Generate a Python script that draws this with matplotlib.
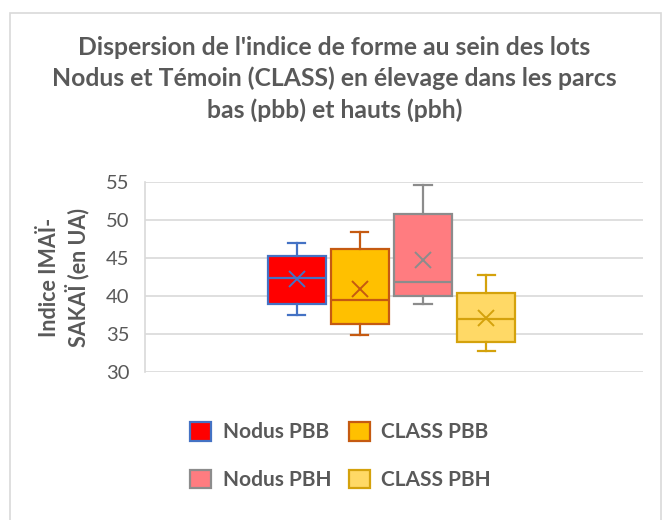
import matplotlib
matplotlib.use("Agg")
import matplotlib.pyplot as plt
from matplotlib.patches import Patch, Rectangle

plt.rcParams['font.family'] = ['Lato', 'DejaVu Sans']

# values
series = ["Nodus PBB", "CLASS PBB", "Nodus PBH", "CLASS PBH"]
whislo = [37.6, 34.9, 39.0, 32.8]
q1 = [39.05, 36.3, 40.0, 34.05]
med = [42.45, 39.5, 41.9, 36.95]
q3 = [45.3, 46.2, 50.8, 40.5]
whishi = [47.05, 48.4, 54.7, 42.8]
means = [42.3, 40.9, 44.75, 37.1]

fills = ["#FF0000", "#FFC000", "#FF7C80", "#FFD966"]
edges = ["#4472C4", "#C55A11", "#8C8C8C", "#D4A20C"]
yticks = [30, 35, 40, 45, 50, 55]
txt = "#595959"

fig = plt.figure(figsize=(6.65, 5.2), dpi=100)
ax = fig.add_axes([145/665, 1 - 372.3/520, 498/665, 190/520])

stats = []
for i in range(len(series)):
    stats.append(dict(label=series[i], whislo=whislo[i], q1=q1[i], med=med[i],
                      q3=q3[i], whishi=whishi[i], mean=means[i]))

for i, s in enumerate(stats):
    c = edges[i]
    ax.bxp([s], positions=[i + 1], widths=0.92, capwidths=0.27,
           showmeans=True, patch_artist=True, showfliers=False,
           boxprops=dict(facecolor=fills[i], edgecolor=c, linewidth=1.6),
           whiskerprops=dict(color=c, linewidth=1.6),
           capprops=dict(color=c, linewidth=1.6),
           medianprops=dict(color=c, linewidth=1.6),
           meanprops=dict(marker="x", markeredgecolor=c, markersize=12,
                          markeredgewidth=1.4),
           zorder=3)

ax.set_xlim(-1.41, 6.49)
ax.set_ylim(30, 55)
ax.set_yticks(yticks)
ax.set_xticks([])
ax.yaxis.grid(True, color="#D9D9D9", linewidth=1.2, zorder=0)
for sp in ["top", "right", "bottom"]:
    ax.spines[sp].set_visible(False)
ax.spines["left"].set_color("#D9D9D9")
ax.spines["left"].set_linewidth(1.2)
ax.tick_params(axis="y", length=0, pad=11, labelsize=14.5, labelcolor=txt)
ax.set_ylabel("Indice IMAÏ-\nSAKAÏ (en UA)", fontsize=15.5, fontweight="bold",
              color=txt, labelpad=12, linespacing=1.25)

fig.text(0.503, 1 - 79/520,
         "Dispersion de l'indice de forme au sein des lots\n"
         "Nodus et Témoin (CLASS) en élevage dans les parcs\n"
         "bas (pbb) et hauts (pbh)",
         ha="center", va="center", fontsize=17.8, fontweight="bold",
         color=txt, linespacing=1.4)

order = [0, 2, 1, 3]
handles = [Patch(facecolor=fills[i], edgecolor=edges[i], linewidth=1.6,
                 label=series[i]) for i in order]
fig.legend(handles=handles, ncol=2, loc="center", bbox_to_anchor=(340.5/665, 1 - 456/520),
           frameon=False, labelcolor=txt, prop=dict(weight="bold", size=15),
           handlelength=1.0, handleheight=1.0, handletextpad=0.55,
           columnspacing=0.85, labelspacing=1.3)

fig.patches.append(Rectangle((10/665, -0.01), 651/665, 1 - 13/520 + 0.01,
                             transform=fig.transFigure, fill=False,
                             edgecolor="#D9D9D9", linewidth=1.2))

fig.savefig("out.png", dpi=100)
